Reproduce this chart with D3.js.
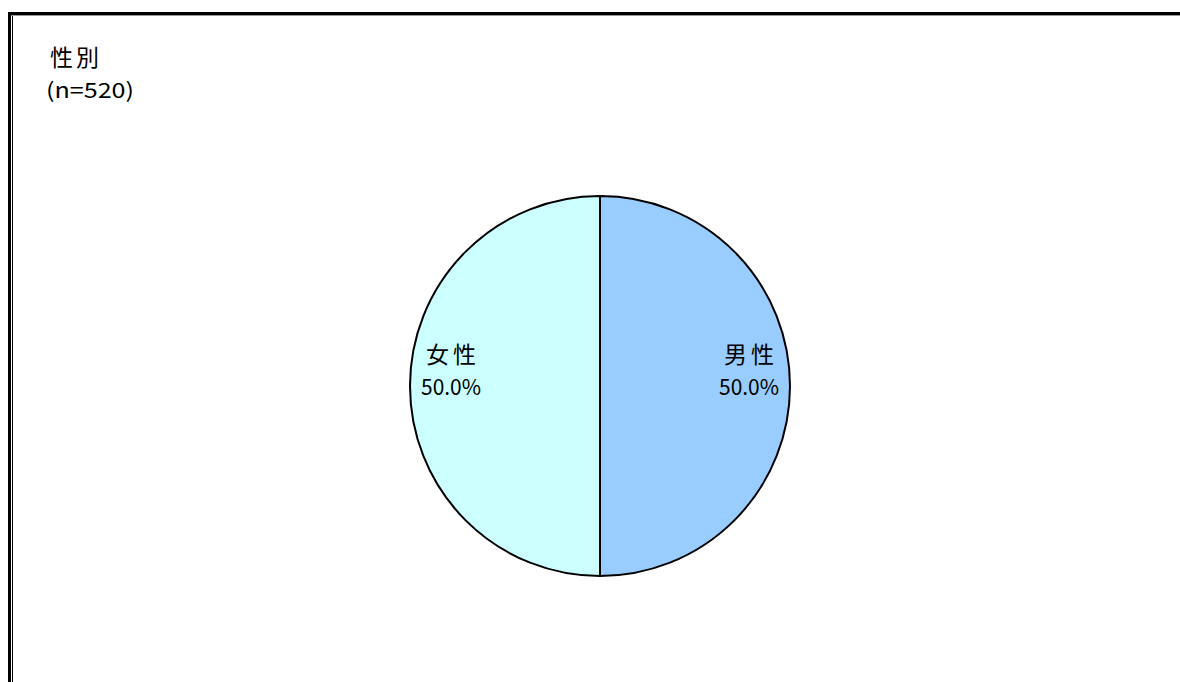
<!DOCTYPE html>
<html><head><meta charset="utf-8">
<script src="https://cdn.jsdelivr.net/npm/d3@7"></script>
<style>body{margin:0;background:#fff;}svg{display:block;}</style>
</head><body>
<svg id="chart" width="1180" height="682"></svg>
<script>
const categories = ["男性", "女性"];
const values = [50.0, 50.0];
const colors = ["#99CCFF", "#CCFFFF"];
const title = "性別";
const subtitle = "(n=520)";

const svg = d3.select("#chart");
const font = "'Noto Sans CJK JP', sans-serif";

// frame
svg.append("rect").attr("x", 9.5).attr("y", 13.5).attr("width", 1200).attr("height", 700)
  .attr("fill", "none").attr("stroke", "#000").attr("stroke-width", 3);
svg.append("line").attr("x1", 12.5).attr("x2", 12.5).attr("y1", 15).attr("y2", 682)
  .attr("stroke", "#000").attr("stroke-width", 1);
svg.append("line").attr("x1", 11).attr("x2", 1180).attr("y1", 15.5).attr("y2", 15.5)
  .attr("stroke", "#999").attr("stroke-width", 1);

svg.append("text").attr("x", 50).attr("y", 66).attr("font-family", font).attr("font-size", 23)
  .attr("letter-spacing", 3).attr("fill", "#000").text(title);
svg.append("text").attr("x", 46).attr("y", 98).attr("font-family", font).attr("font-size", 21)
  .attr("textLength", 88).attr("lengthAdjust", "spacingAndGlyphs")
  .attr("fill", "#000").text(subtitle);

const cx = 600, cy = 386, r = 190;
const pie = d3.pie().sort(null).value(d => d)(values);
const arc = d3.arc().innerRadius(0).outerRadius(r);
const labelArc = d3.arc().innerRadius(149).outerRadius(149);
const g = svg.append("g").attr("transform", `translate(${cx},${cy})`);
g.selectAll("path").data(pie).join("path")
  .attr("d", arc).attr("fill", (d, i) => colors[i])
  .attr("stroke", "#000").attr("stroke-width", 2);

const lab = g.selectAll("g.lab").data(pie).join("g").attr("class", "lab")
  .attr("transform", d => { const c = labelArc.centroid(d); return `translate(${c[0]},${c[1]})`; });
lab.append("text").attr("text-anchor", "middle").attr("y", -23)
  .attr("font-family", font).attr("font-size", 23).attr("fill", "#000")
  .attr("textLength", 50).attr("lengthAdjust", "spacing")
  .text((d, i) => categories[i]);
lab.append("text").attr("text-anchor", "middle").attr("y", 9)
  .attr("font-family", font).attr("font-size", 22).attr("fill", "#000")
  .attr("textLength", 60).attr("lengthAdjust", "spacingAndGlyphs")
  .text((d, i) => values[i].toFixed(1) + "%");
</script>
</body></html>
